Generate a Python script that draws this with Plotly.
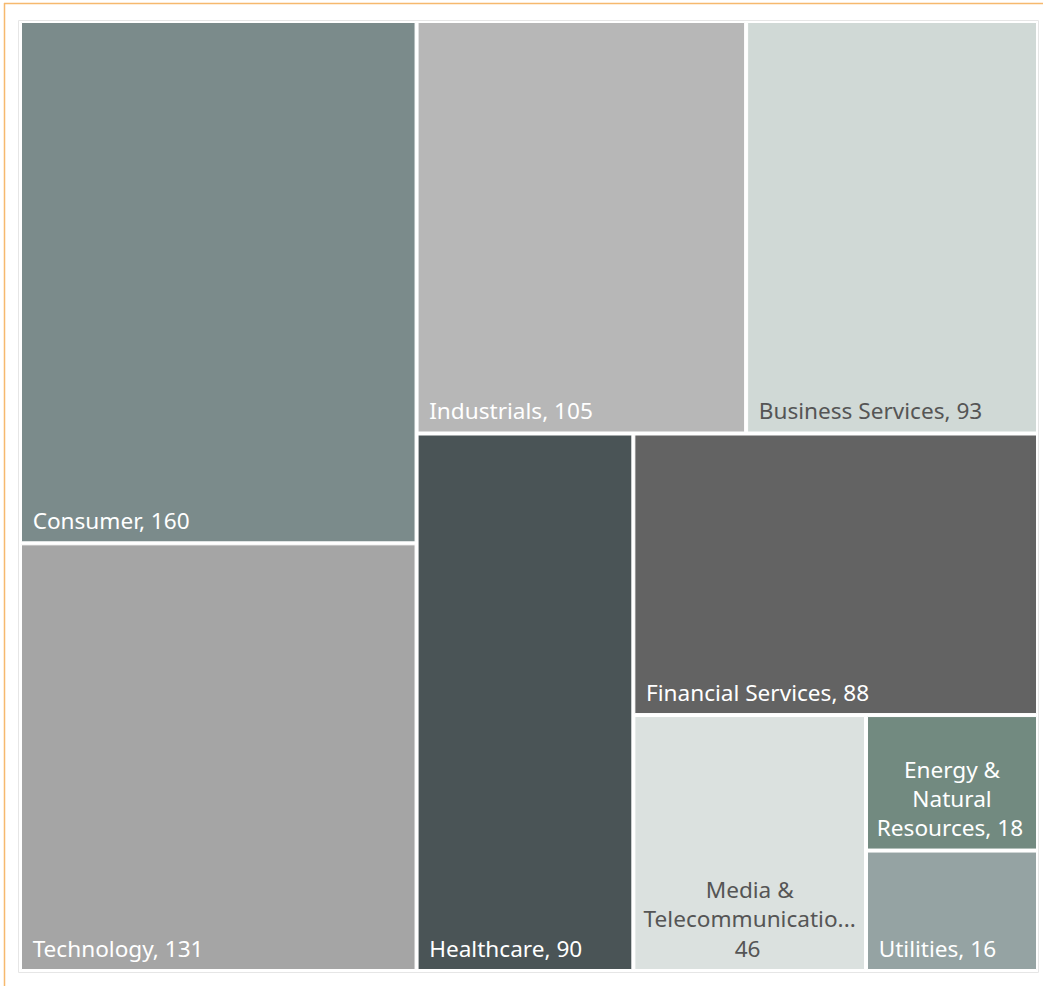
import plotly.graph_objects as go

# ---- data ----
labels = ["Consumer", "Technology", "Industrials", "Business Services", "Healthcare",
          "Financial Services", "Media & Telecommunications", "Energy & Natural Resources", "Utilities"]
values = [160, 131, 105, 93, 90, 88, 46, 18, 16]
colors = ["#7B8B8B", "#A5A5A5", "#B7B7B7", "#D0D9D6", "#4A5456",
          "#636363", "#DBE1DF", "#728A80", "#95A3A3"]
text_colors = ["#FFFFFF", "#FFFFFF", "#FFFFFF", "#555555", "#FFFFFF",
               "#FFFFFF", "#555555", "#FFFFFF", "#FFFFFF"]
# grouping that reproduces the reference's tile arrangement
leaf_parents = ["gL", "gL", "gT", "gT", "gC", "gD", "gE", "gF", "gF"]
group_ids = ["all", "gL", "gR", "gT", "gC", "gD", "gE", "gF"]
group_parents = ["", "all", "all", "gR", "gR", "gC", "gD", "gE"]
# labels shown centred and wrapped
wrapped_text = {"Media & Telecommunications": "Media &<br>Telecommunicatio...<br>46",
                "Energy & Natural Resources": "Energy &<br>Natural<br>Resources, 18"}

# ---- build hierarchy (leaves first so siblings keep their order) ----
ids = labels + group_ids
parents = leaf_parents + group_parents
vals = values + [0] * len(group_ids)
ng = len(group_ids)
lead = "\u00a0\u200a"
tail = "<sub>\u00a0</sub>"
left_text = ["" if l in wrapped_text else f"{lead}{l}, {v}{tail}" for l, v in zip(labels, values)] + [""] * ng
center_text = [wrapped_text[l] + tail if l in wrapped_text else "" for l in labels] + [""] * ng
tile_colors = colors + ["rgba(0,0,0,0)"] * ng
line_widths = [1] * len(labels) + [0] * ng
txt_colors = text_colors + ["#FFFFFF"] * ng

W, H = 1043, 986
font_family = "Noto Sans, Open Sans, sans-serif"
fsize = 22.6

common = dict(
    ids=ids, labels=ids, parents=parents, values=vals, branchvalues="remainder",
    sort=False,
    domain=dict(x=[21.5 / W, 1036.5 / W], y=[1 - 969.5 / H, 1 - 22.5 / H]),
    tiling=dict(packing="slice-dice", pad=3),
    pathbar=dict(visible=False),
    texttemplate="%{text}", hoverinfo="label+value",
)

fig = go.Figure()
fig.add_trace(go.Treemap(
    text=left_text,
    marker=dict(colors=tile_colors,
                line=dict(color="#FFFFFF", width=line_widths),
                pad=dict(t=0, l=0, r=0, b=0)),
    textposition="bottom left",
    textfont=dict(family=font_family, size=fsize, color=txt_colors),
    **common,
))
fig.add_trace(go.Treemap(
    text=center_text,
    marker=dict(colors=["rgba(0,0,0,0)"] * len(ids),
                line=dict(color="rgba(0,0,0,0)", width=0),
                pad=dict(t=0, l=0, r=0, b=0)),
    textposition="bottom center",
    textfont=dict(family=font_family, size=fsize, color=txt_colors),
    **common,
))

fig.update_layout(
    width=W, height=H,
    margin=dict(l=0, r=0, t=0, b=0),
    paper_bgcolor="#FFFFFF",
    showlegend=False,
    shapes=[
        dict(type="rect", xref="paper", yref="paper", x0=18.5 / W, x1=1038.5 / W,
             y0=1 - 972.5 / H, y1=1 - 20.5 / H, line=dict(color="#E6E6E6", width=1)),
        dict(type="line", xref="paper", yref="paper", x0=4 / W, x1=1, y0=1 - 3.5 / H, y1=1 - 3.5 / H,
             line=dict(color="#F6B96E", width=1.5)),
        dict(type="line", xref="paper", yref="paper", x0=4.5 / W, x1=4.5 / W, y0=0, y1=1 - 3 / H,
             line=dict(color="#F6B96E", width=1.5)),
    ],
)

fig.write_html("out.html", config={"displayModeBar": False},
               post_script="document.body.style.margin='0px';")
